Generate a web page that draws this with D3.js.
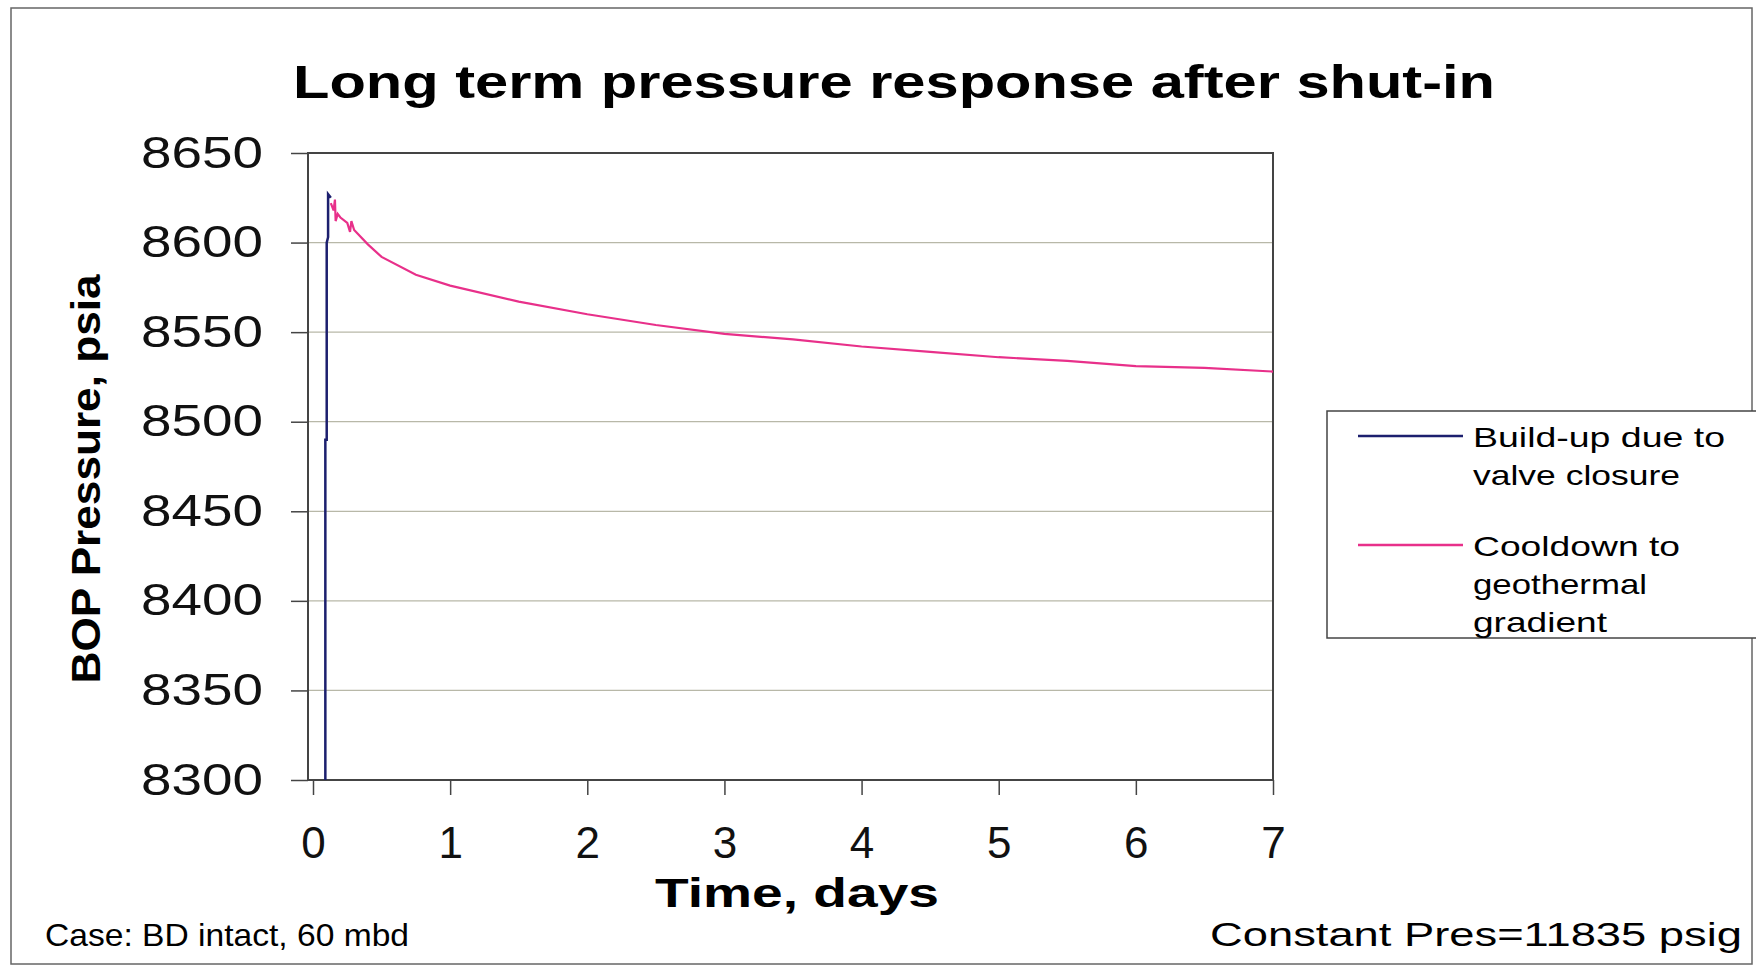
<!DOCTYPE html>
<html><head><meta charset="utf-8">
<script src="https://cdn.jsdelivr.net/npm/d3@7"></script>
<style>body{margin:0;background:#fff}text{font-family:"Liberation Sans",Arial,sans-serif}</style>
</head><body><svg id="c" width="1756" height="971"></svg>
<script>
// build-up (valve closure) series
const buildT = [0.09, 0.09, 0.10, 0.10, 0.11, 0.11, 0.13];
const buildP = [8300, 8490, 8490, 8600, 8603, 8627, 8625];
// cooldown series
const coolT = [0.13, 0.15, 0.16, 0.165, 0.18, 0.2, 0.25, 0.27, 0.28, 0.3, 0.4, 0.5, 0.75, 1, 1.5, 2, 2.5, 3, 3.5, 4, 4.5, 5, 5.5, 6, 6.5, 7];
const coolP = [8622, 8618, 8624, 8612, 8616, 8614, 8611, 8606, 8612, 8607, 8599, 8592, 8582, 8576, 8567, 8560, 8554, 8549, 8546, 8542, 8539, 8536, 8534, 8531, 8530, 8528];
const yTicks = [8300, 8350, 8400, 8450, 8500, 8550, 8600, 8650];
const xTicks = [0, 1, 2, 3, 4, 5, 6, 7];

const svg = d3.select("#c");
const x = d3.scaleLinear().domain([0, 7]).range([313, 1273]);
const y = d3.scaleLinear().domain([8300, 8650]).range([780, 153]);

svg.append("rect").attr("x", 11).attr("y", 8).attr("width", 1741).attr("height", 956)
    .attr("fill", "none").attr("stroke", "#666").attr("stroke-width", 1.5);

// gridlines
svg.append("g").selectAll("line").data(yTicks.slice(1, -1)).join("line")
    .attr("x1", 308).attr("x2", 1273).attr("y1", d => y(d)).attr("y2", d => y(d))
    .attr("stroke", "#b8b8a8").attr("stroke-width", 1.2);

svg.append("rect").attr("x", 308).attr("y", 153).attr("width", 1273 - 308).attr("height", 780 - 153)
    .attr("fill", "none").attr("stroke", "#444").attr("stroke-width", 2);

const yAxis = svg.append("g").attr("transform", "translate(308,0)")
    .call(d3.axisLeft(y).tickValues(yTicks).tickFormat(d3.format("d")).tickSize(17).tickPadding(28));
const xAxis = svg.append("g").attr("transform", "translate(0,780)")
    .call(d3.axisBottom(x).tickValues(xTicks).tickFormat(d3.format("d")).tickSize(15).tickPadding(32));
[yAxis, xAxis].forEach(a => {
    a.select(".domain").remove();
    a.selectAll("line").attr("stroke", "#444").attr("stroke-width", 1.5);
    a.selectAll("text").attr("font-size", 44).attr("fill", "#111");
});
yAxis.selectAll("text").attr("textLength", 122).attr("lengthAdjust", "spacingAndGlyphs");

const line = d3.line().x(d => x(d[0])).y(d => y(d[1]));
svg.append("path").datum(d3.zip(coolT, coolP)).attr("d", line)
    .attr("fill", "none").attr("stroke", "#e8308a").attr("stroke-width", 2.2);
svg.append("path").datum(d3.zip(buildT, buildP)).attr("d", line)
    .attr("fill", "none").attr("stroke", "#1c1f6e").attr("stroke-width", 2.5);

function label(xp, yp, txt, size, len, bold, anchor) {
    return svg.append("text").attr("x", xp).attr("y", yp).attr("text-anchor", anchor || "start")
        .attr("font-size", size).attr("font-weight", bold ? "bold" : "normal")
        .attr("textLength", len).attr("lengthAdjust", "spacingAndGlyphs").text(txt);
}
label(894, 98, "Long term pressure response after shut-in", 46, 1202, true, "middle");
svg.append("text").attr("transform", "translate(100,479) rotate(-90)").attr("text-anchor", "middle")
    .attr("font-size", 40).attr("font-weight", "bold").attr("textLength", 409)
    .attr("lengthAdjust", "spacingAndGlyphs").text("BOP Pressure, psia");
label(797, 907, "Time, days", 40, 284, true, "middle");
label(45, 946, "Case: BD intact, 60 mbd", 32, 364);
label(1742, 946, "Constant Pres=11835 psig", 34, 532, false, "end");

// legend
const lg = svg.append("g");
lg.append("rect").attr("x", 1327).attr("y", 411).attr("width", 440).attr("height", 227)
    .attr("fill", "#fff").attr("stroke", "#444").attr("stroke-width", 1.5);
const legend = [
    { color: "#1c1f6e", ly: 436, lines: ["Build-up due to", "valve closure"], lens: [252, 207] },
    { color: "#e8308a", ly: 545, lines: ["Cooldown to", "geothermal", "gradient"], lens: [207, 174, 134] }
];
legend.forEach(s => {
    lg.append("line").attr("x1", 1358).attr("x2", 1463).attr("y1", s.ly).attr("y2", s.ly)
        .attr("stroke", s.color).attr("stroke-width", 2.5);
    s.lines.forEach((t, i) => lg.append("text").attr("x", 1473).attr("y", s.ly + 11 + i * 38)
        .attr("font-size", 28).attr("textLength", s.lens[i]).attr("lengthAdjust", "spacingAndGlyphs").text(t));
});
</script></body></html>
